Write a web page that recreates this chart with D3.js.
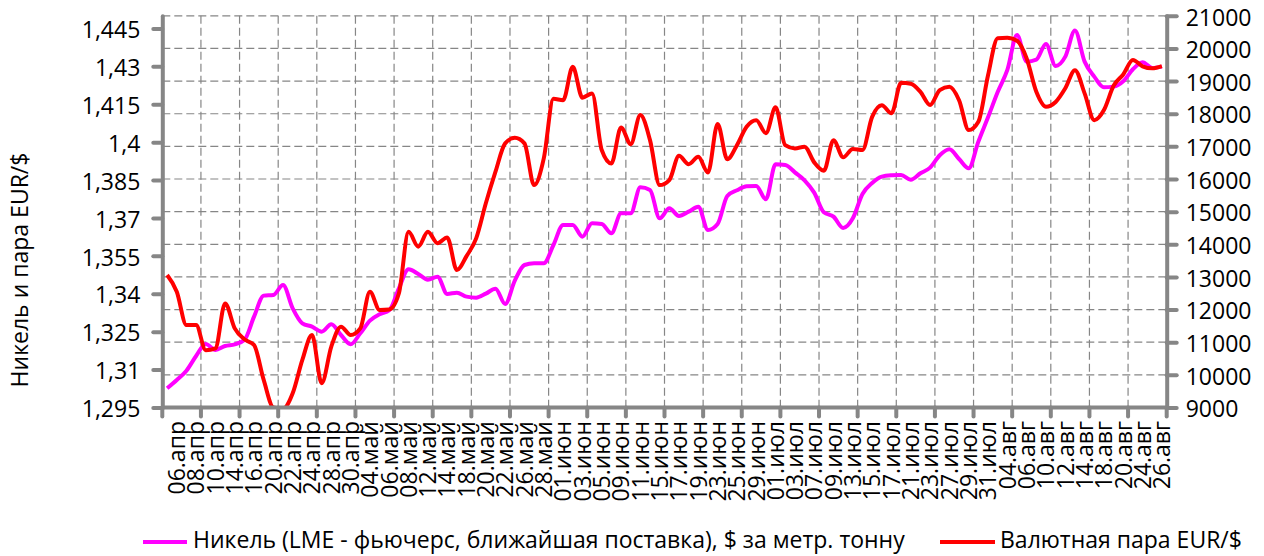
<!DOCTYPE html>
<html><head><meta charset="utf-8">
<script src="https://cdn.jsdelivr.net/npm/d3@7"></script>
<style>
body{margin:0;background:#fff}
svg{display:block}
text{font-family:"Open Sans","Noto Sans",sans-serif;fill:#000}
</style>
</head><body>
<svg id="c" width="1264" height="556"></svg>
<script>
const categories = [
"03.апр","06.апр","07.апр","08.апр","09.апр","10.апр","13.апр","14.апр","15.апр","16.апр","17.апр","20.апр","21.апр","22.апр","23.апр","24.апр","27.апр","28.апр","29.апр","30.апр",
"01.май","04.май","05.май","06.май","07.май","08.май","11.май","12.май","13.май","14.май","15.май","18.май","19.май","20.май","21.май","22.май","25.май","26.май","27.май","28.май","29.май",
"01.июн","02.июн","03.июн","04.июн","05.июн","08.июн","09.июн","10.июн","11.июн","12.июн","15.июн","16.июн","17.июн","18.июн","19.июн","22.июн","23.июн","24.июн","25.июн","26.июн","29.июн","30.июн",
"01.июл","02.июл","03.июл","06.июл","07.июл","08.июл","09.июл","10.июл","13.июл","14.июл","15.июл","16.июл","17.июл","20.июл","21.июл","22.июл","23.июл","24.июл","27.июл","28.июл","29.июл","30.июл","31.июл",
"03.авг","04.авг","05.авг","06.авг","07.авг","10.авг","11.авг","12.авг","13.авг","14.авг","17.авг","18.авг","19.авг","20.авг","21.авг","24.авг","25.авг","26.авг"
];
const nickel = [
9588,9843,10128,10578,10946,10762,10884,10936,11068,11783,12427,12447,12753,12038,11579,11477,11324,11548,11221,10936,
11272,11661,11855,11977,12651,13233,13090,12917,13009,12478,12518,12396,12365,12488,12641,12171,12886,13366,13417,13417,13979,
14592,14592,14234,14643,14622,14336,14949,14949,15746,15664,14796,15102,14868,15000,15153,14439,14622,15480,15654,15776,15787,15378,
16450,16430,16205,15960,15582,14980,14847,14500,14796,15541,15878,16072,16113,16124,15981,16175,16348,16726,16910,16614,16328,17145,17891,
18667,19341,20413,19596,19657,20138,19463,19750,20546,19596,19137,18810,18830,18994,19361,19576,19402,19443
];
const eurusd = [
1.3474,1.3408,1.3276,1.3276,1.3177,1.3184,1.3362,1.3263,1.3220,1.3197,1.3059,1.2950,1.2945,1.3006,1.3138,1.3237,1.3046,1.3191,1.3270,1.3237,
1.3263,1.3408,1.3336,1.3338,1.3402,1.3645,1.3586,1.3645,1.3600,1.3623,1.3494,1.3549,1.3619,1.3758,1.3883,1.3995,1.4017,1.3995,1.3830,1.3936,1.4172,
1.4166,1.4298,1.4176,1.4193,1.3969,1.3916,1.4058,1.3992,1.4107,1.4008,1.3830,1.3850,1.3946,1.3913,1.3942,1.3880,1.4072,1.3932,1.3988,1.4061,1.4087,1.4035,
1.4138,1.3988,1.3975,1.3982,1.3920,1.3887,1.4008,1.3940,1.3973,1.3969,1.4100,1.4146,1.4114,1.4235,1.4231,1.4199,1.4147,1.4206,1.4219,1.4166,1.4048,1.4081,1.4265,
1.4411,1.4413,1.4401,1.4331,1.4199,1.4140,1.4159,1.4213,1.4285,1.4193,1.4087,1.4127,1.4223,1.4268,1.4325,1.4300,1.4292,1.4301
];
const leftTicks = [1.295,1.31,1.325,1.34,1.355,1.37,1.385,1.4,1.415,1.43,1.445];
const rightTicks = [9000,10000,11000,12000,13000,14000,15000,16000,17000,18000,19000,20000,21000];
const seriesNames = ["Никель (LME - фьючерс, ближайшая поставка), $ за метр. тонну","Валютная пара EUR/$"];
const seriesColors = ["#FF00FF","#FF0000"];
const yTitle = "Никель и пара EUR/$";

const L=162.3, R=1166.7, T=15.8, B=407.5;
const FS = 23;
const grey = "#868686";
const svg = d3.select("#c");

const x = d3.scaleBand().domain(categories).range([L,R]).padding(0);
const yL = d3.scaleLinear().domain([1.295,1.45]).range([B,T]);
const yR = d3.scaleLinear().domain([9000,21000]).range([B,T]);
const cx = c => x(c) + x.bandwidth()/2;

// grid
const grid = svg.append("g").attr("stroke",grey).attr("stroke-width",1.2).attr("stroke-dasharray","8,4");
rightTicks.filter(v=>v>9000).forEach(v=>{
  grid.append("line").attr("x1",L).attr("x2",R).attr("y1",yR(v)).attr("y2",yR(v));
});
categories.forEach((c,i)=>{
  if(i>0 && i%4===0) grid.append("line").attr("x1",x(c)).attr("x2",x(c)).attr("y1",T).attr("y2",B);
});

// data lines
svg.append("clipPath").attr("id","pc").append("rect").attr("x",L).attr("y",T-4).attr("width",R-L).attr("height",B-T+4);
const gData = svg.append("g").attr("clip-path","url(#pc)");
const lineN = d3.line().x((d,i)=>cx(categories[i])).y(d=>yR(d)).curve(d3.curveMonotoneX);
const lineE = d3.line().x((d,i)=>cx(categories[i])).y(d=>yL(d)).curve(d3.curveMonotoneX);
gData.append("path").attr("d",lineN(nickel)).attr("fill","none").attr("stroke",seriesColors[0]).attr("stroke-width",4).attr("stroke-linejoin","round");
gData.append("path").attr("d",lineE(eurusd)).attr("fill","none").attr("stroke",seriesColors[1]).attr("stroke-width",4).attr("stroke-linejoin","round");

// axes
const fmtL = v => String(+v.toFixed(3)).replace(".",",");
const axL = svg.append("g").attr("transform",`translate(${L},0)`)
  .call(d3.axisLeft(yL).tickValues(leftTicks).tickFormat(fmtL).tickSize(9).tickSizeOuter(0).tickPadding(13));
const axR = svg.append("g").attr("transform",`translate(${R},0)`)
  .call(d3.axisRight(yR).tickValues(rightTicks).tickFormat(d3.format("d")).tickSize(10).tickSizeOuter(0).tickPadding(9));
[axL,axR].forEach(a=>{
  a.select(".domain").attr("stroke",grey).attr("stroke-width",4).attr("stroke-linecap","round");
  a.selectAll(".tick line").attr("stroke",grey).attr("stroke-width",4).attr("stroke-linecap","round");
  a.selectAll(".tick text").attr("font-size",FS).attr("font-family","Open Sans").attr("fill","#000").attr("dy","0.4em");
});

// bottom axis
const gx = svg.append("g");
gx.append("line").attr("x1",L).attr("x2",R).attr("y1",B).attr("y2",B).attr("stroke",grey).attr("stroke-width",4).attr("stroke-linecap","round");
categories.forEach((c,i)=>{
  if(i%4===0) gx.append("line").attr("x1",x(c)).attr("x2",x(c)).attr("y1",B).attr("y2",B+9).attr("stroke",grey).attr("stroke-width",4).attr("stroke-linecap","round");
});
gx.append("line").attr("x1",R).attr("x2",R).attr("y1",B).attr("y2",B+9).attr("stroke",grey).attr("stroke-width",4).attr("stroke-linecap","round");
categories.forEach((c,i)=>{
  if(i%2===1) gx.append("text").attr("transform",`translate(${cx(c)},421) rotate(-90)`)
    .attr("text-anchor","end").attr("dy","0.36em").attr("font-size",FS).text(c);
});

// y title
svg.append("text").attr("transform","translate(20,270) rotate(-90)").attr("text-anchor","middle")
  .attr("dy","0.36em").attr("font-size",FS).text(yTitle);

// legend
const leg = [{x1:143,x2:187,tx:193},{x1:940,x2:995,tx:1000}];
leg.forEach((l,k)=>{
  svg.append("line").attr("x1",l.x1).attr("x2",l.x2).attr("y1",542).attr("y2",542).attr("stroke",seriesColors[k]).attr("stroke-width",4);
  svg.append("text").attr("x",l.tx).attr("y",540).attr("dy","0.36em").attr("font-size",FS).text(seriesNames[k]);
});
</script>
</body></html>
